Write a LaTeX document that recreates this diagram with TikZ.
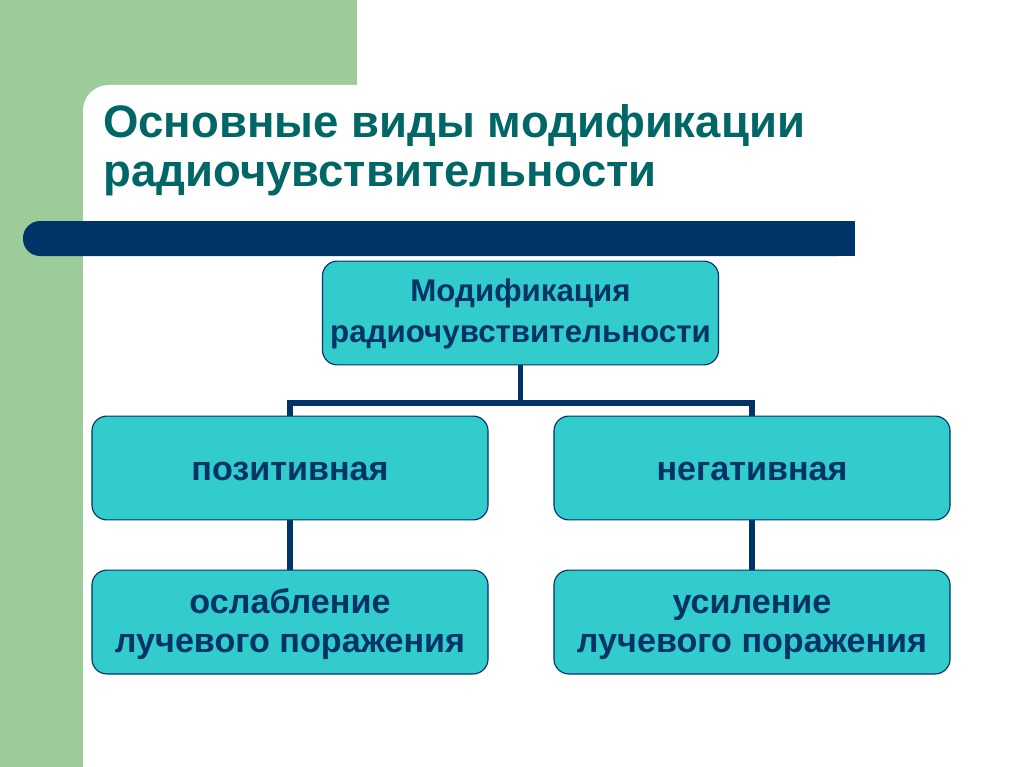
\documentclass[tikz,border=0pt]{standalone}
\usepackage{fontspec}
\setmainfont{Liberation Sans}
\usetikzlibrary{arrows}
\definecolor{slidegreen}{RGB}{155,204,153}
\definecolor{barnavy}{RGB}{0,51,102}
\definecolor{titleteal}{RGB}{0,102,102}
\definecolor{boxcyan}{RGB}{51,204,204}

\begin{document}
\begin{tikzpicture}[x=0.703125pt,y=-0.703125pt,node distance=108.3pt,
        box/.style={draw=barnavy,line width=0.8pt,fill=boxcyan,rounded corners=10.5pt,
                    minimum width=278.5pt,minimum height=73pt,align=center,text=barnavy,
                    font=\bfseries\fontsize{24}{27.4}\selectfont},
        branch/.style={draw=barnavy,line width=3.7pt}]
                  \useasboundingbox (0,0) rectangle (1024,767);
                  % slide background
                  \fill[slidegreen] (0,0) rectangle (357,767);
                  \fill[white, rounded corners=18pt] (83,85) rectangle (1060,800);
                  \fill[barnavy, rounded corners=12pt] (23,221) rectangle (855,256);
                  \fill[barnavy] (500,221) rectangle (855,256);

                  \node[anchor=base west, align=left, inner sep=0pt, text=titleteal,
                        font=\bfseries\fontsize{32}{35}\selectfont]
                        (heading) at (103,187) {Основные виды модификации\\радиочувствительности};

                  \node[box, text height=43.8pt, text depth=2pt, font=\bfseries\fontsize{22}{28.8}\selectfont]
                                          (top) at (520.5,313) {Модификация\\радиочувствительности};
                  \node[box, text height=16.9pt, text depth=0pt] (pos) at (290,468) {позитивная};
                  \node[box, text height=16.9pt, text depth=0pt] (neg) at (752,468) {негативная};
                  \node[box, text height=45.3pt, text depth=2pt] (weak) [below of=pos] {ослабление\\лучевого поражения};
                  \node[box, text height=45.3pt, text depth=2pt] (strong) [below of=neg] {усиление\\лучевого поражения};

                  \coordinate (fork) at (520.5,403);

                      \draw[branch] (top) -- (fork) -| (pos);
                      \draw[branch] (fork) -| (neg);
                      \draw[branch]
                               (pos) edge (weak)
                               (neg) edge (strong);
\end{tikzpicture}
\end{document}
